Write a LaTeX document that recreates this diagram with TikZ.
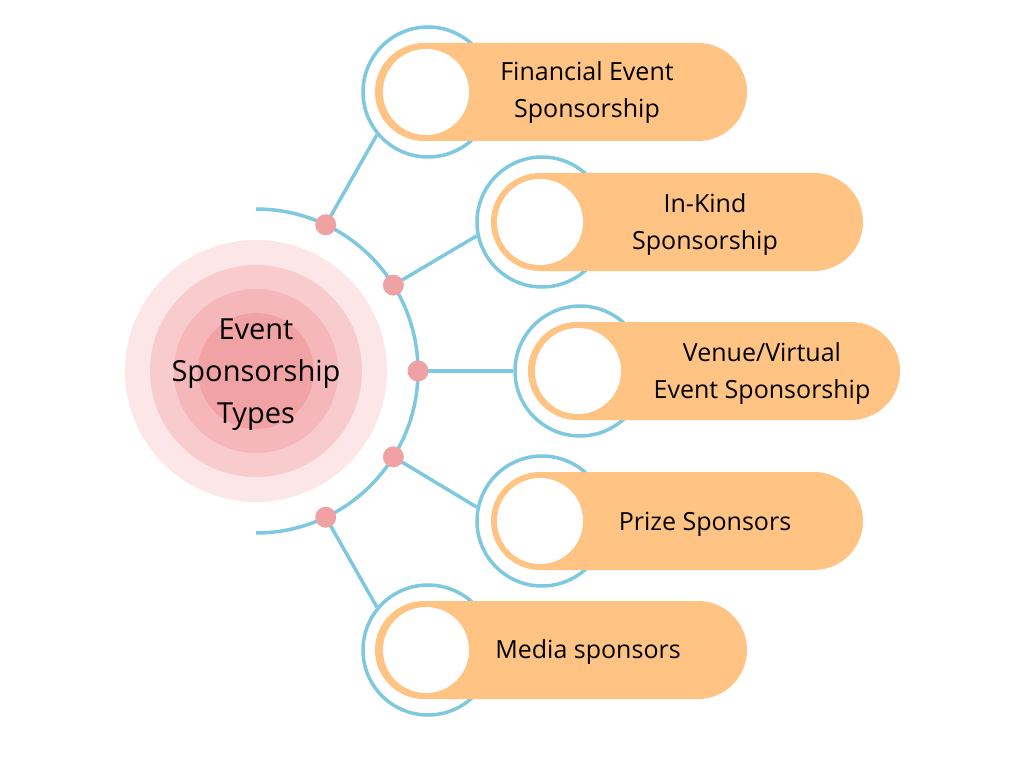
\documentclass[tikz,border=0pt]{standalone}
\usepackage{fontspec}
\setmainfont{Open Sans}
\usetikzlibrary{calc}
\definecolor{skyb}{HTML}{7EC8E0}
\definecolor{pillc}{HTML}{FFC383}
\definecolor{dotc}{HTML}{F0A1A4}
\definecolor{ringa}{HTML}{FCE6E8}
\definecolor{ringb}{HTML}{F8CBCD}
\definecolor{ringc}{HTML}{F5B7B9}
\definecolor{ringd}{HTML}{F1A2A5}
\pgfdeclarelayer{bg}
\pgfsetlayers{bg,main}
\begin{document}
\begin{tikzpicture}[x=1pt,y=-1pt,
  ringnode/.style={circle,draw=skyb,line width=3.5pt,minimum size=130pt,inner sep=0pt},
  pillnode/.style={rectangle,fill=pillc,rounded corners=49pt,minimum width=372pt,minimum height=98pt,inner sep=0pt},
  holenode/.style={circle,fill=white,minimum size=86pt,inner sep=0pt},
  labelnode/.style={align=center,font=\fontsize{25}{37}\selectfont,inner sep=0pt},
  dotnode/.style={circle,fill=dotc,minimum size=21pt,inner sep=0pt},
  conn/.style={draw=skyb,line width=3.5pt}]
\useasboundingbox (0,0) rectangle (1024,759);
\coordinate (c) at (256,371);
% centre rings
\fill[ringa] (c) circle (131pt);
\fill[ringb] (c) circle (106pt);
\fill[ringc] (c) circle (82pt);
\fill[ringd] (c) circle (58pt);
\node[align=center,font=\fontsize{29}{42}\selectfont,inner sep=0pt] (center) at (256,375) {Event\\Sponsorship\\Types};
% items
\node[ringnode] (b1) at (428,92) {};
\node[ringnode] (b2) at (542,222) {};
\node[ringnode] (b3) at (580,371) {};
\node[ringnode] (b4) at (542,521) {};
\node[ringnode] (b5) at (428,650) {};
\node[pillnode] (p1) at (561,92) {};
\node[pillnode] (p2) at (677,222) {};
\node[pillnode] (p3) at (714,371) {};
\node[pillnode] (p4) at (677,521) {};
\node[pillnode] (p5) at (561,650) {};
\node[holenode] (h1) at (426,92) {};
\node[holenode] (h2) at (540,222) {};
\node[holenode] (h3) at (578,371) {};
\node[holenode] (h4) at (540,521) {};
\node[holenode] (h5) at (426,650) {};
\node[labelnode] (t1) at (587,93) {Financial Event\\Sponsorship};
\node[labelnode] (t2) at (705,225) {In-Kind\\Sponsorship};
\node[labelnode] (t3) at (762,374) {Venue/Virtual\\Event Sponsorship};
\node[labelnode] (t4) at (705,524) {Prize Sponsors};
\node[labelnode] (t5) at (588,652) {Media sponsors};
% arc and dots
\draw[skyb,line width=3.5pt] ($(c)+(90:162pt)$) arc[start angle=90,end angle=-90,radius=162pt];
\node[dotnode] (d1) at ($(c)+(64.5:162pt)$) {};
\node[dotnode] (d2) at ($(c)+(32:162pt)$) {};
\node[dotnode] (d3) at ($(c)+(0:162pt)$) {};
\node[dotnode] (d4) at ($(c)+(-32:162pt)$) {};
\node[dotnode] (d5) at ($(c)+(-64.5:162pt)$) {};
\begin{pgfonlayer}{bg}
\draw[conn] (d1.center) -- (b1.220);
\draw[conn] (d2.center) -- (b2.192);
\draw[conn] (d3.center) -- (b3.180);
\draw[conn] (d4.center) -- (b4.168);
\draw[conn] (d5.center) -- (b5.140);
\end{pgfonlayer}
\end{tikzpicture}
\end{document}
